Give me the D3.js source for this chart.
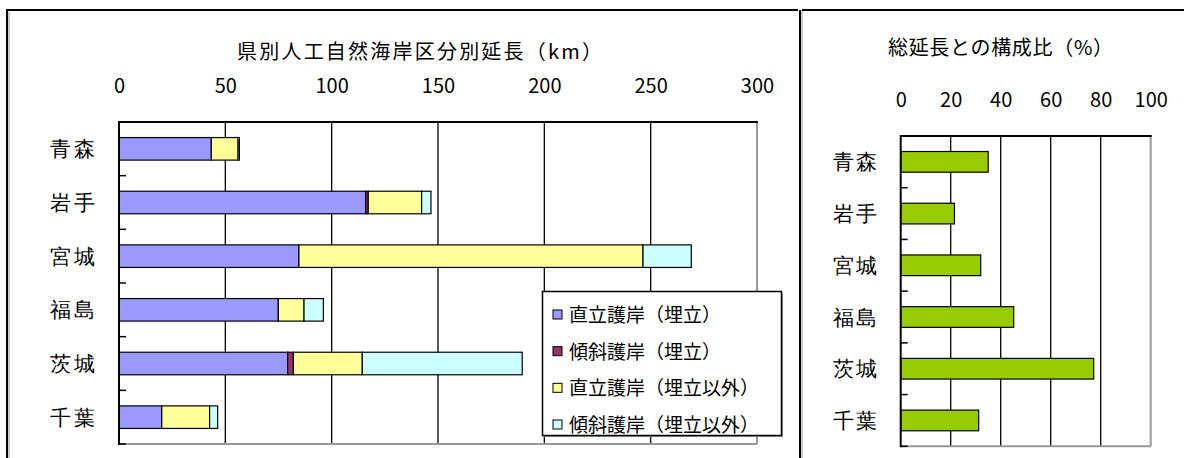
<!DOCTYPE html>
<html><head><meta charset="utf-8">
<script src="https://cdn.jsdelivr.net/npm/d3@7/dist/d3.min.js"></script>
<style>
html,body{margin:0;padding:0;background:#fff;}
svg{display:block;font-family:"Noto Sans CJK JP","Noto Sans",sans-serif;}
</style></head>
<body>
<svg id="c" width="1184" height="458"></svg>
<script>
// ---- data ----
const categories = ['青森','岩手','宮城','福島','茨城','千葉'];
const seriesNames = ['直立護岸（埋立）','傾斜護岸（埋立）','直立護岸（埋立以外）','傾斜護岸（埋立以外）'];
const seriesColors = ['#9999FF','#993366','#FFFF99','#CCFFFF'];
const vertReclaimed  = [43.4, 116.0, 84.6, 74.9, 79.3, 20.1];
const slopeReclaimed = [0.0,  1.2,   0.0,  0.0,  2.7,  0.0];
const vertOther      = [12.6, 25.1, 161.8, 12.1, 32.4, 22.5];
const slopeOther     = [0.6,  4.4,  22.7,  9.1,  75.2, 3.8];
const ratioValues    = [35.0, 21.5, 32.0, 45.2, 77.2, 31.2];
const leftTicks  = [0,50,100,150,200,250,300];
const rightTicks = [0,20,40,60,80,100];
const leftTitle  = '県別人工自然海岸区分別延長（km）';
const rightTitle = '総延長との構成比（%）';

const svg = d3.select('#c');

// ---- outer frame ----
const frame = svg.append('g');
frame.append('path').attr('d','M7,458 V10 H798').attr('fill','none').attr('stroke','#000').attr('stroke-width',2);
frame.append('line').attr('x1',9).attr('x2',9).attr('y1',12).attr('y2',458).attr('stroke','#999').attr('stroke-width',1);
frame.append('line').attr('x1',800).attr('x2',800).attr('y1',10).attr('y2',458).attr('stroke','#000').attr('stroke-width',2);
frame.append('line').attr('x1',802).attr('x2',802).attr('y1',10).attr('y2',458).attr('stroke','#999').attr('stroke-width',1);
frame.append('line').attr('x1',802).attr('x2',1184).attr('y1',10).attr('y2',10).attr('stroke','#000').attr('stroke-width',2);

// ---- left chart ----
const L = {x0:119, x1:757, y0:122, y1:444};
const x = d3.scaleLinear().domain([0,300]).range([L.x0, L.x1]);
const y = d3.scaleBand().domain(categories).range([L.y0, L.y1]).paddingInner(0.58).paddingOuter(0.29);

const stackData = categories.map((c,i)=>({cat:c, s0:vertReclaimed[i], s1:slopeReclaimed[i], s2:vertOther[i], s3:slopeOther[i]}));
const stack = d3.stack().keys(['s0','s1','s2','s3'])(stackData);

const gl = svg.append('g');
// gridlines
gl.selectAll('line.grid').data(leftTicks.filter(t=>t>0 && t<300)).join('line')
  .attr('x1',d=>x(d)).attr('x2',d=>x(d)).attr('y1',L.y0).attr('y2',L.y1)
  .attr('stroke','#000').attr('stroke-width',1.3);
// plot border
gl.append('line').attr('x1',L.x1).attr('x2',L.x1).attr('y1',L.y0).attr('y2',L.y1).attr('stroke','#999').attr('stroke-width',2);
gl.append('line').attr('x1',L.x0).attr('x2',L.x1).attr('y1',L.y1).attr('y2',L.y1).attr('stroke','#999').attr('stroke-width',2);
gl.append('line').attr('x1',L.x0).attr('x2',L.x1+1).attr('y1',L.y0).attr('y2',L.y0).attr('stroke','#000').attr('stroke-width',2);

// bars
stack.forEach((layer,k)=>{
  gl.append('g').selectAll('rect').data(layer.filter(d=>d[1]-d[0]>0)).join('rect')
    .attr('x',d=>x(d[0])).attr('width',d=>x(d[1])-x(d[0]))
    .attr('y',d=>y(d.data.cat)).attr('height',y.bandwidth())
    .attr('fill',seriesColors[k]).attr('stroke','#000').attr('stroke-width',1.2);
});
// left axis line
gl.append('line').attr('x1',L.x0).attr('x2',L.x0).attr('y1',L.y0-1).attr('y2',L.y1+1).attr('stroke','#000').attr('stroke-width',2);
// category ticks (inward, at band boundaries)
const stepL = y.step();
gl.selectAll('line.ct').data(d3.range(1,7)).join('line')
  .attr('x1',L.x0).attr('x2',L.x0+7).attr('y1',i=>L.y0+i*stepL).attr('y2',i=>L.y0+i*stepL)
  .attr('stroke','#000').attr('stroke-width',1.5);

// top value axis
const axTop = gl.append('g').attr('transform',`translate(0,${L.y0})`)
  .call(d3.axisTop(x).tickValues(leftTicks).tickSize(0).tickPadding(29));
axTop.select('.domain').remove();
axTop.selectAll('text').attr('font-size',20).attr('fill','#000').style('font-family','"Noto Sans CJK JP"');

// category axis
const axLeft = gl.append('g').attr('transform',`translate(${L.x0},0)`)
  .call(d3.axisLeft(y).tickSize(0).tickPadding(22));
axLeft.select('.domain').remove();
axLeft.selectAll('text').attr('font-size',21).attr('fill','#000').attr('letter-spacing',2.5).attr('dy','0.36em');

// title
gl.append('text').attr('x',237).attr('y',59).attr('font-size',20).attr('textLength',365).attr('lengthAdjust','spacing').text(leftTitle);

// legend
const lg = gl.append('g');
lg.append('rect').attr('x',544).attr('y',293).attr('width',239).attr('height',144).attr('fill','#999');
lg.append('rect').attr('x',542.5).attr('y',291.5).attr('width',239).attr('height',144).attr('fill','#fff').attr('stroke','#000').attr('stroke-width',1.5);
const ly = d3.scalePoint().domain(seriesNames).range([315,425]);
lg.selectAll('rect.sw').data(seriesNames).join('rect')
  .attr('x',553).attr('y',d=>ly(d)-5).attr('width',9).attr('height',9)
  .attr('fill',(d,i)=>seriesColors[i]).attr('stroke','#000').attr('stroke-width',1);
lg.selectAll('text.lt').data(seriesNames).join('text')
  .attr('x',569).attr('y',d=>ly(d)).attr('dy','0.36em').attr('font-size',19).text(d=>d);

// ---- right chart ----
const R = {x0:900.7, x1:1150.7, y0:136, y1:446.3};
const x2 = d3.scaleLinear().domain([0,100]).range([R.x0,R.x1]);
const y2 = d3.scaleBand().domain(categories).range([R.y0,R.y1]).paddingInner(0.6).paddingOuter(0.3);
const gr = svg.append('g');
gr.selectAll('line.grid').data(rightTicks.filter(t=>t>0 && t<100)).join('line')
  .attr('x1',d=>x2(d)).attr('x2',d=>x2(d)).attr('y1',R.y0).attr('y2',R.y1)
  .attr('stroke','#000').attr('stroke-width',1.3);
gr.append('line').attr('x1',R.x1).attr('x2',R.x1).attr('y1',R.y0).attr('y2',R.y1).attr('stroke','#999').attr('stroke-width',2);
gr.append('line').attr('x1',R.x0).attr('x2',R.x1).attr('y1',R.y1).attr('y2',R.y1).attr('stroke','#999').attr('stroke-width',2);
gr.append('line').attr('x1',R.x0).attr('x2',R.x1+1).attr('y1',R.y0).attr('y2',R.y0).attr('stroke','#000').attr('stroke-width',2);
gr.selectAll('rect.bar').data(categories).join('rect')
  .attr('x',x2(0)).attr('width',(d,i)=>x2(ratioValues[i])-x2(0))
  .attr('y',d=>y2(d)).attr('height',y2.bandwidth())
  .attr('fill','#99CC00').attr('stroke','#000').attr('stroke-width',1.2);
gr.append('line').attr('x1',R.x0).attr('x2',R.x0).attr('y1',R.y0-1).attr('y2',R.y1+1).attr('stroke','#000').attr('stroke-width',2);
const stepR = y2.step();
gr.selectAll('line.ct').data(d3.range(1,7)).join('line')
  .attr('x1',R.x0).attr('x2',R.x0+7).attr('y1',i=>R.y0+i*stepR).attr('y2',i=>R.y0+i*stepR)
  .attr('stroke','#000').attr('stroke-width',1.5);
const axTop2 = gr.append('g').attr('transform',`translate(0,${R.y0})`)
  .call(d3.axisTop(x2).tickValues(rightTicks).tickSize(0).tickPadding(29));
axTop2.select('.domain').remove();
axTop2.selectAll('text').attr('font-size',20).attr('fill','#000').style('font-family','"Noto Sans CJK JP"');
const axLeft2 = gr.append('g').attr('transform',`translate(${R.x0},0)`)
  .call(d3.axisLeft(y2).tickSize(0).tickPadding(21));
axLeft2.select('.domain').remove();
axLeft2.selectAll('text').attr('font-size',21).attr('fill','#000').attr('letter-spacing',2.5).attr('dy','0.36em');
gr.append('text').attr('x',888).attr('y',55).attr('font-size',20).attr('textLength',225).attr('lengthAdjust','spacing').text(rightTitle);
</script>
</body></html>
